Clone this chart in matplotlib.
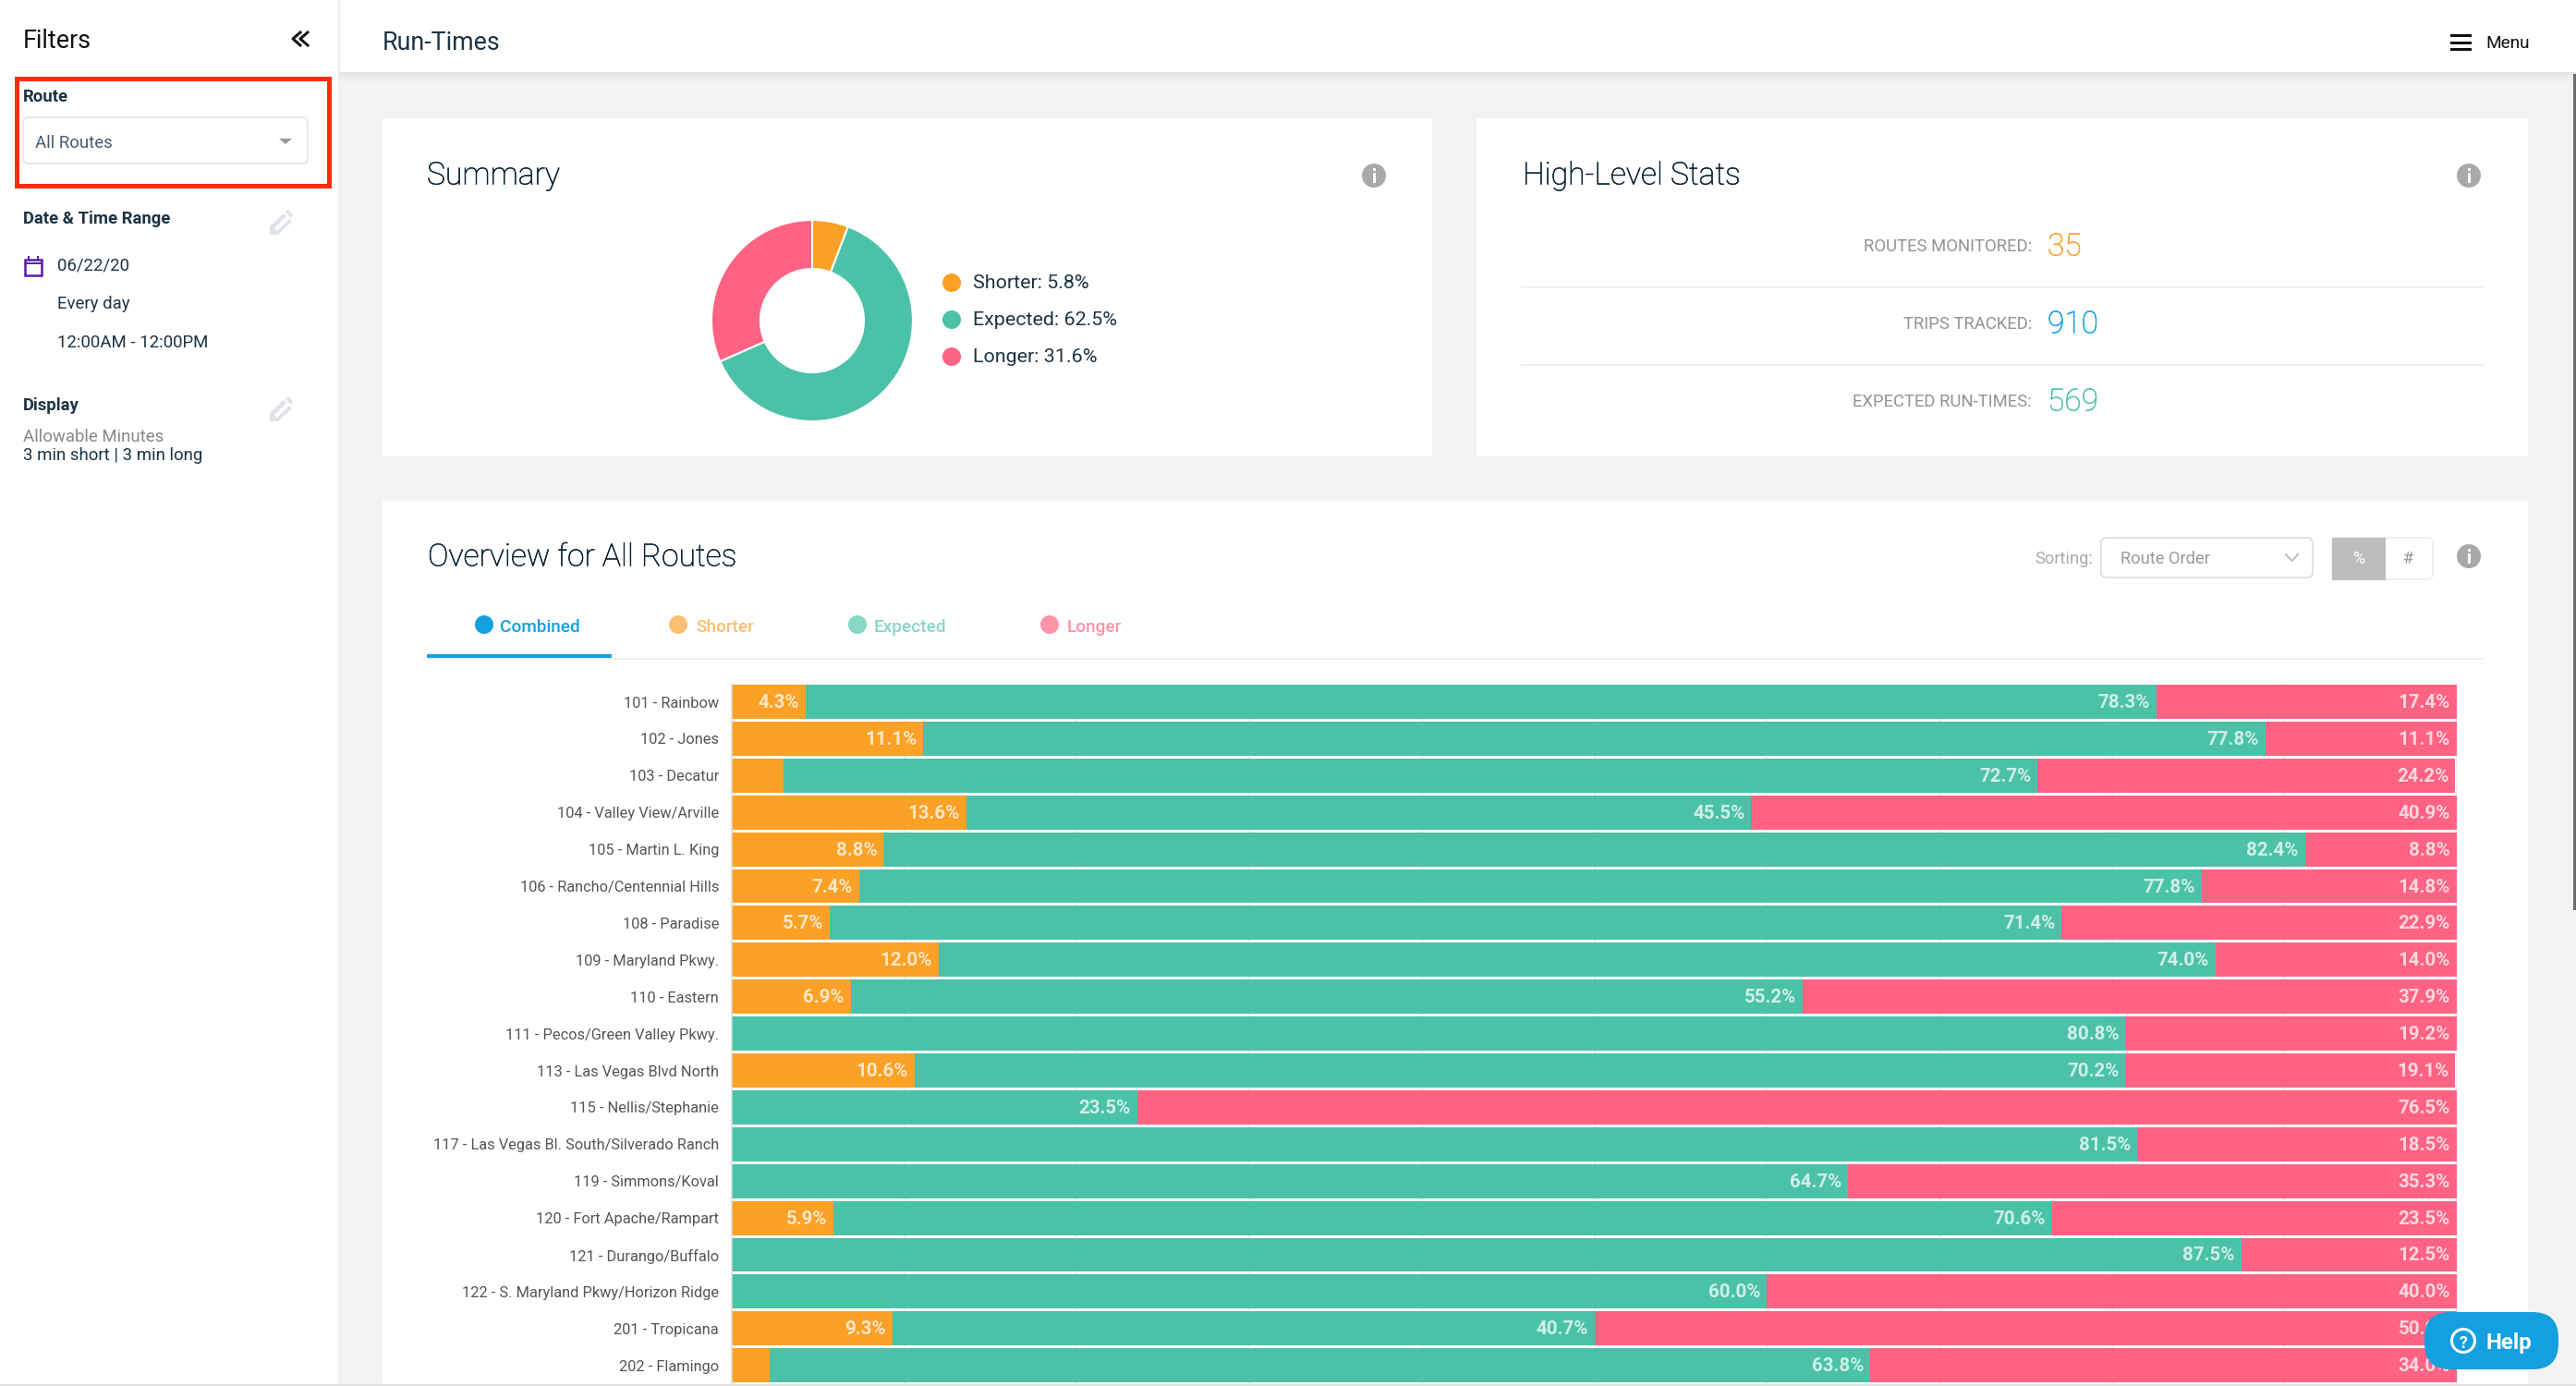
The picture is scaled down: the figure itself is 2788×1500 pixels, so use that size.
import matplotlib
matplotlib.use('Agg')
import matplotlib.pyplot as plt
import matplotlib.patheffects as pe
from matplotlib.patches import Rectangle, Circle, FancyBboxPatch, Polygon

W = 2788
H = 1500

routes = ['101 - Rainbow', '102 - Jones', '103 - Decatur', '104 - Valley View/Arville',
          '105 - Martin L. King', '106 - Rancho/Centennial Hills', '108 - Paradise',
          '109 - Maryland Pkwy.', '110 - Eastern', '111 - Pecos/Green Valley Pkwy.',
          '113 - Las Vegas Blvd North', '115 - Nellis/Stephanie',
          '117 - Las Vegas Bl. South/Silverado Ranch', '119 - Simmons/Koval',
          '120 - Fort Apache/Rampart', '121 - Durango/Buffalo',
          '122 - S. Maryland Pkwy/Horizon Ridge', '201 - Tropicana', '202 - Flamingo']
shorter = [4.3, 11.1, 3.0, 13.6, 8.8, 7.4, 5.7, 12.0, 6.9, 0, 10.6, 0, 0, 0, 5.9, 0, 0, 9.3, 2.2]
expected = [78.3, 77.8, 72.7, 45.5, 82.4, 77.8, 71.4, 74.0, 55.2, 80.8, 70.2, 23.5, 81.5, 64.7,
            70.6, 87.5, 60.0, 40.7, 63.8]
longer = [17.4, 11.1, 24.2, 40.9, 8.8, 14.8, 22.9, 14.0, 37.9, 19.2, 19.1, 76.5, 18.5, 35.3,
          23.5, 12.5, 40.0, 50.0, 34.0]

summary_names = ['Shorter', 'Expected', 'Longer']
summary_vals = [5.8, 62.5, 31.6]

stat_names = ['ROUTES MONITORED:', 'TRIPS TRACKED:', 'EXPECTED RUN-TIMES:']
stat_vals = ['35', '910', '569']

ORANGE = '#fba126'
TEAL = '#4bc2a8'
PINK = '#ff6384'
BLUE = '#14a0e0'
DARK = '#1d3444'
TITLE = '#06202e'
BG = '#f3f3f3'
LINE = '#efefef'

plt.rcParams['font.family'] = ['Roboto', 'DejaVu Sans']


def px(v):
    return v * 72 / 100


fig = plt.figure(figsize=(W / 100, H / 100), dpi=100, facecolor=BG)

# page furniture, in pixels
bg = fig.add_axes([0, 0, 1, 1], zorder=0)
bg.set_xlim(0, W)
bg.set_ylim(H, 0)
bg.axis('off')


def rect(ax, x0, y0, x1, y1, color, z=1):
    ax.add_patch(Rectangle((x0, y0), x1 - x0, y1 - y0, facecolor=color, edgecolor='none', zorder=z))


def box(ax, x0, y0, x1, y1, edge, face='white', r=6, lw=2, z=2):
    ax.add_patch(FancyBboxPatch((x0 + r, y0 + r), x1 - x0 - 2 * r, y1 - y0 - 2 * r,
                                boxstyle='round,pad=%d,rounding_size=%d' % (r, r),
                                facecolor=face, edgecolor=edge, linewidth=px(lw), zorder=z))


def label(ax, x, y, s, size, color=DARK, ha='left', weight='normal', z=5, alpha=None):
    t = ax.text(x, y, s, fontsize=px(size), color=color, ha=ha, va='center_baseline',
                fontweight=weight, zorder=z, alpha=alpha)
    # the light face comes out too pale here, thicken it a touch
    if weight == 'light':
        t.set_path_effects([pe.withStroke(linewidth=0.35, foreground=color)])
    return t


def info(ax, x, y):
    ax.add_patch(Circle((x, y), 13, facecolor='#a9a9a9', edgecolor='none', zorder=3))
    rect(ax, x - 1.5, y - 3, x + 1.5, y + 8, 'white', 4)
    rect(ax, x - 1.5, y - 8, x + 1.5, y - 5, 'white', 4)


def pencil(ax, x, y):
    ax.add_patch(Polygon([(x, y + 24), (x, y + 15), (x + 15, y + 1), (x + 18, y + 4), (x + 5, y + 17),
                          (x + 8, y + 20), (x + 21, y + 7), (x + 24, y + 10), (x + 9, y + 24)],
                         facecolor='#dfe3e8', edgecolor='none', zorder=3))
    ax.add_patch(Polygon([(x + 17, y - 1), (x + 20, y - 3), (x + 25, y + 2), (x + 23, y + 6)],
                         facecolor='#dfe3e8', edgecolor='none', zorder=3))


# sidebar and header
rect(bg, 0, 0, 366, H, 'white')
rect(bg, 366, 0, W, 78, 'white')
for i, c in enumerate(['#e4e4e4', '#e8e8e8', '#ebebeb', '#eeeeee', '#f0f0f0', '#f1f1f1', '#f2f2f2']):
    rect(bg, 366, 78 + i * 2, W, 80 + i * 2, c)
for i, c in enumerate(['#eaeaea', '#f0f0f0', '#f6f6f6']):
    rect(bg, 366 + i, 0, 367 + i, 78, c, 2)

label(bg, 25, 41, 'Filters', 27, '#111111')
for dx in (0, 8):
    bg.plot([325 + dx, 317 + dx, 325 + dx], [35, 42, 49], color='#111111', lw=px(3), zorder=4)
bg.add_patch(Rectangle((18, 85), 338, 116, facecolor='none', edgecolor='#ff2d0d', linewidth=px(5), zorder=6))
label(bg, 25, 103, 'Route', 18.5, weight='bold')
box(bg, 25, 127, 333, 177, '#e8e8e8')
label(bg, 38, 153, 'All Routes', 18.7, '#4a5a6a')
bg.add_patch(Polygon([(302, 150), (316, 150), (309, 156)], facecolor='#999999', edgecolor='none', zorder=4))
label(bg, 25, 235, 'Date & Time Range', 18.5, weight='bold')
pencil(bg, 292, 230)
bg.add_patch(Rectangle((27, 281), 18, 17, facecolor='none', edgecolor='#5b1ca8', linewidth=px(2.5), zorder=4))
rect(bg, 27, 284, 45, 286, '#5b1ca8', 4)
rect(bg, 30, 277, 32, 281, '#5b1ca8', 4)
rect(bg, 40, 277, 42, 281, '#5b1ca8', 4)
label(bg, 62, 286, '06/22/20', 18.7)
label(bg, 62, 327, 'Every day', 18.7)
label(bg, 62, 369, '12:00AM - 12:00PM', 18.7)
label(bg, 25, 437, 'Display', 18.5, weight='bold')
pencil(bg, 292, 432)
label(bg, 25, 471, 'Allowable Minutes', 18.7, '#888888')
label(bg, 25, 491, '3 min short | 3 min long', 18.7)

label(bg, 414, 44, 'Run-Times', 26.8)
for y in (38, 46, 53):
    rect(bg, 2652, y - 1.5, 2675, y + 1.5, '#111111', 4)
label(bg, 2690, 45, 'Menu', 19, '#111111')
rect(bg, 2785, 80, 2788, 985, '#6b6b6b', 4)

# cards
rect(bg, 414, 128, 1550, 494, 'white')
rect(bg, 1598, 128, 2736, 494, 'white')
rect(bg, 414, 542, 2736, H, 'white')
rect(bg, 0, 1498, W, H, '#e0e0e0', 4)

# summary card
label(bg, 462, 187, 'Summary', 33.7, TITLE, weight='light')
info(bg, 1487, 190)
for i, (n, v, c) in enumerate(zip(summary_names, summary_vals, [ORANGE, TEAL, PINK])):
    y = 306 + i * 40
    bg.add_patch(Circle((1030, y), 10, facecolor=c, edgecolor='none', zorder=3))
    label(bg, 1053, y - 2, '%s: %.1f%%' % (n, v), 21.5)

pie_ax = fig.add_axes([(879 - 109) / W, 1 - (347 + 109) / H, 218 / W, 218 / H], zorder=1)
pie_ax.pie(summary_vals, colors=[ORANGE, TEAL, PINK], startangle=90, counterclock=False, radius=1,
           wedgeprops={'width': 0.486, 'edgecolor': 'white', 'linewidth': 1.5})
pie_ax.set_xlim(-1, 1)
pie_ax.set_ylim(-1, 1)

# high-level stats card
label(bg, 1648, 187, 'High-Level Stats', 33.7, TITLE, weight='light')
info(bg, 2672, 190)
for i, (n, v, c) in enumerate(zip(stat_names, stat_vals, [ORANGE, BLUE, TEAL])):
    label(bg, 2199, 265 + i * 84, n, 18.5, '#929292', ha='right')
    label(bg, 2216, 264 + i * 84, v, 33.5, c, weight='light')
for y in (311, 395):
    rect(bg, 1646, y - 1, 2688, y + 1, LINE, 2)

# overview card
label(bg, 463, 600, 'Overview for All Routes', 33.7, TITLE, weight='light')
tab_names = ['Combined', 'Shorter', 'Expected', 'Longer']
tab_dots = [524, 734, 928, 1136]
tab_text = [541.5, 753, 946, 1155]
tab_colors = [BLUE, '#fac06f', '#88d6c5', '#ff93aa']
for n, d, t, c in zip(tab_names, tab_dots, tab_text, tab_colors):
    bg.add_patch(Circle((d, 676), 10, facecolor=c, edgecolor='none', zorder=3))
    label(bg, t, 677, n, 19, c, weight='medium')
rect(bg, 462, 712, 2687, 714, LINE, 2)
rect(bg, 462, 708, 662, 712, BLUE, 3)

label(bg, 2265, 603, 'Sorting:', 18.3, '#aaaaaa', ha='right')
box(bg, 2274, 582, 2503, 625, '#e0e0e6')
label(bg, 2295, 603, 'Route Order', 18.3, '#999999')
bg.plot([2474, 2480.5, 2487], [600, 607, 600], color='#aaaaaa', lw=px(1.5), zorder=4)
box(bg, 2524, 582, 2633, 627, '#f0f0f4')
rect(bg, 2524, 582, 2582, 628, '#bdbdbd', 3)
label(bg, 2553, 603, '%', 18, 'white', ha='center')
label(bg, 2607, 603, '#', 18, '#999999', ha='center')
info(bg, 2672, 602)

# stacked bars
bar_top = 739.55
pitch = 39.9
bar_ax = fig.add_axes([792 / W, 1 - (bar_top + 19 * pitch) / H, 1867 / W, 19 * pitch / H],
                      zorder=1, facecolor='white')
ypos = list(range(len(routes)))
lefts = [0] * len(routes)
for vals, c in zip([shorter, expected, longer], [ORANGE, TEAL, PINK]):
    bar_ax.barh(ypos, vals, left=lefts, height=0.927, color=c, linewidth=0)
    lefts = [a + b for a, b in zip(lefts, vals)]
    for y, v, right in zip(ypos, vals, lefts):
        if v >= 4:
            bar_ax.annotate('%.1f%%' % v, (right, y), xytext=(px(-7), px(1)), textcoords='offset points',
                            ha='right', va='center_baseline', color='white', alpha=0.75,
                            fontsize=px(20.5), fontweight='bold')
bar_ax.set_xlim(0, 100)
bar_ax.set_ylim(18.5, -0.5)
bar_ax.set_xticks(range(0, 101, 10))
bar_ax.set_xticklabels([])
bar_ax.set_yticks(ypos)
bar_ax.set_yticklabels(routes, fontsize=px(16.35), color='#555555')
bar_ax.tick_params(axis='both', length=0)
bar_ax.tick_params(axis='y', pad=px(14))
bar_ax.grid(axis='x', color='#e6e6e6', lw=px(1.5))
bar_ax.set_axisbelow(True)
for s in ['top', 'right', 'bottom']:
    bar_ax.spines[s].set_visible(False)
bar_ax.spines['left'].set_color('#dddddd')
bar_ax.spines['left'].set_linewidth(px(1.5))

# help button sits on top of the bars
top = fig.add_axes([0, 0, 1, 1], zorder=2, facecolor='none')
top.set_xlim(0, W)
top.set_ylim(H, 0)
top.axis('off')
box(top, 2624, 1420, 2769, 1482, BLUE, BLUE, r=28, lw=0)
top.add_patch(Circle((2666, 1451), 12.5, facecolor='none', edgecolor='white', linewidth=px(3), zorder=4))
label(top, 2666, 1452, '?', 18, 'white', ha='center', weight='bold')
label(top, 2690, 1451, 'Help', 24, 'white', weight='bold')

fig.savefig('out.png', dpi=100, facecolor=BG)
